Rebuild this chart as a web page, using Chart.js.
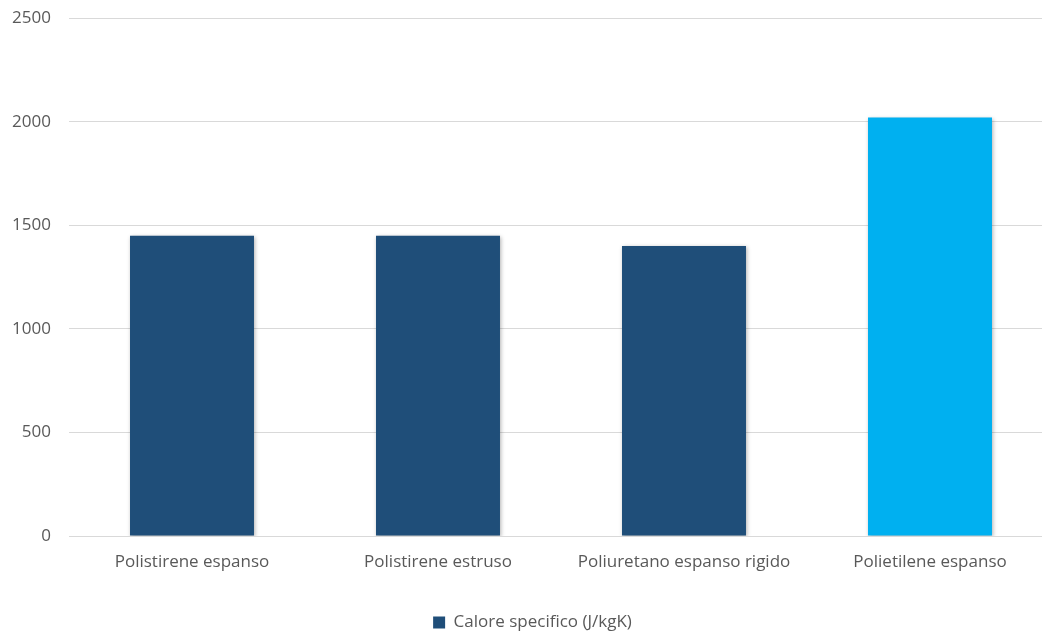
<!doctype html>
<html lang="it">
<head>
<meta charset="utf-8">
<title>Calore specifico</title>
<style>
  * { margin: 0; padding: 0; }
  html, body { width: 1042px; height: 634px; overflow: hidden; background: #fff; }
  .chartBox { position: absolute; left: 0; top: -10px; width: 1053px; height: 651px; }
</style>
</head>
<body>
<div class="chartBox">
  <canvas id="myChart"></canvas>
</div>
<script src="https://cdn.jsdelivr.net/npm/chart.js"></script>
<script>
// data
const categories = ['Polistirene espanso', 'Polistirene estruso', 'Poliuretano espanso rigido', 'Polietilene espanso'];
const caloreSpecifico = [1450, 1450, 1400, 2020];
const barColors = ['#1F4E79', '#1F4E79', '#1F4E79', '#00B0F0'];
const yTicks = [0, 500, 1000, 1500, 2000, 2500];

// soft shadow behind the bars
const barShadow = {
  id: 'barShadow',
  beforeDatasetsDraw(chart) {
    const ctx = chart.ctx;
    ctx.save();
    ctx.shadowColor = 'rgba(0, 0, 0, 0.3)';
    ctx.shadowBlur = 4;
    ctx.shadowOffsetX = 1;
    ctx.shadowOffsetY = 1;
  },
  afterDatasetsDraw(chart) {
    chart.ctx.restore();
  }
};

const data = {
  labels: categories,
  datasets: [{
    label: 'Calore specifico (J/kgK)',
    data: caloreSpecifico,
    backgroundColor: barColors,
    borderWidth: 0,
    barPercentage: 1,
    categoryPercentage: 0.504
  }]
};

const config = {
  type: 'bar',
  data,
  options: {
    responsive: true,
    maintainAspectRatio: false,
    animation: false,
    layout: { padding: { top: 1, left: 12, right: 0, bottom: 0 } },
    plugins: {
      legend: {
        position: 'bottom',
        labels: {
          color: '#595959',
          font: { family: 'Open Sans', size: 17 },
          boxWidth: 12,
          boxHeight: 12,
          padding: 5,
          generateLabels() {
            return [{ text: 'Calore specifico (J/kgK)', fillStyle: '#1F4E79', strokeStyle: '#1F4E79', lineWidth: 0, hidden: false, datasetIndex: 0, fontColor: '#595959' }];
          }
        }
      },
      tooltip: { enabled: false }
    },
    scales: {
      y: {
        min: 0,
        max: 2500,
        afterBuildTicks(axis) { axis.ticks = yTicks.map(v => ({ value: v })); },
        afterFit(scale) { scale.width = 57; },
        ticks: {
          color: '#595959',
          font: { family: 'Open Sans', size: 17 },
          padding: 18,
          callback: v => String(v)
        },
        grid: { color: '#d9d9d9', lineWidth: 1, drawTicks: false },
        border: { display: false }
      },
      x: {
        afterFit(scale) { scale.height = 73; },
        ticks: {
          color: '#595959',
          font: { family: 'Open Sans', size: 17 },
          padding: 8,
          maxRotation: 0
        },
        grid: { display: false },
        border: { display: false }
      }
    }
  },
  plugins: [barShadow]
};

const myChart = new Chart(document.getElementById('myChart'), config);
</script>
</body>
</html>
